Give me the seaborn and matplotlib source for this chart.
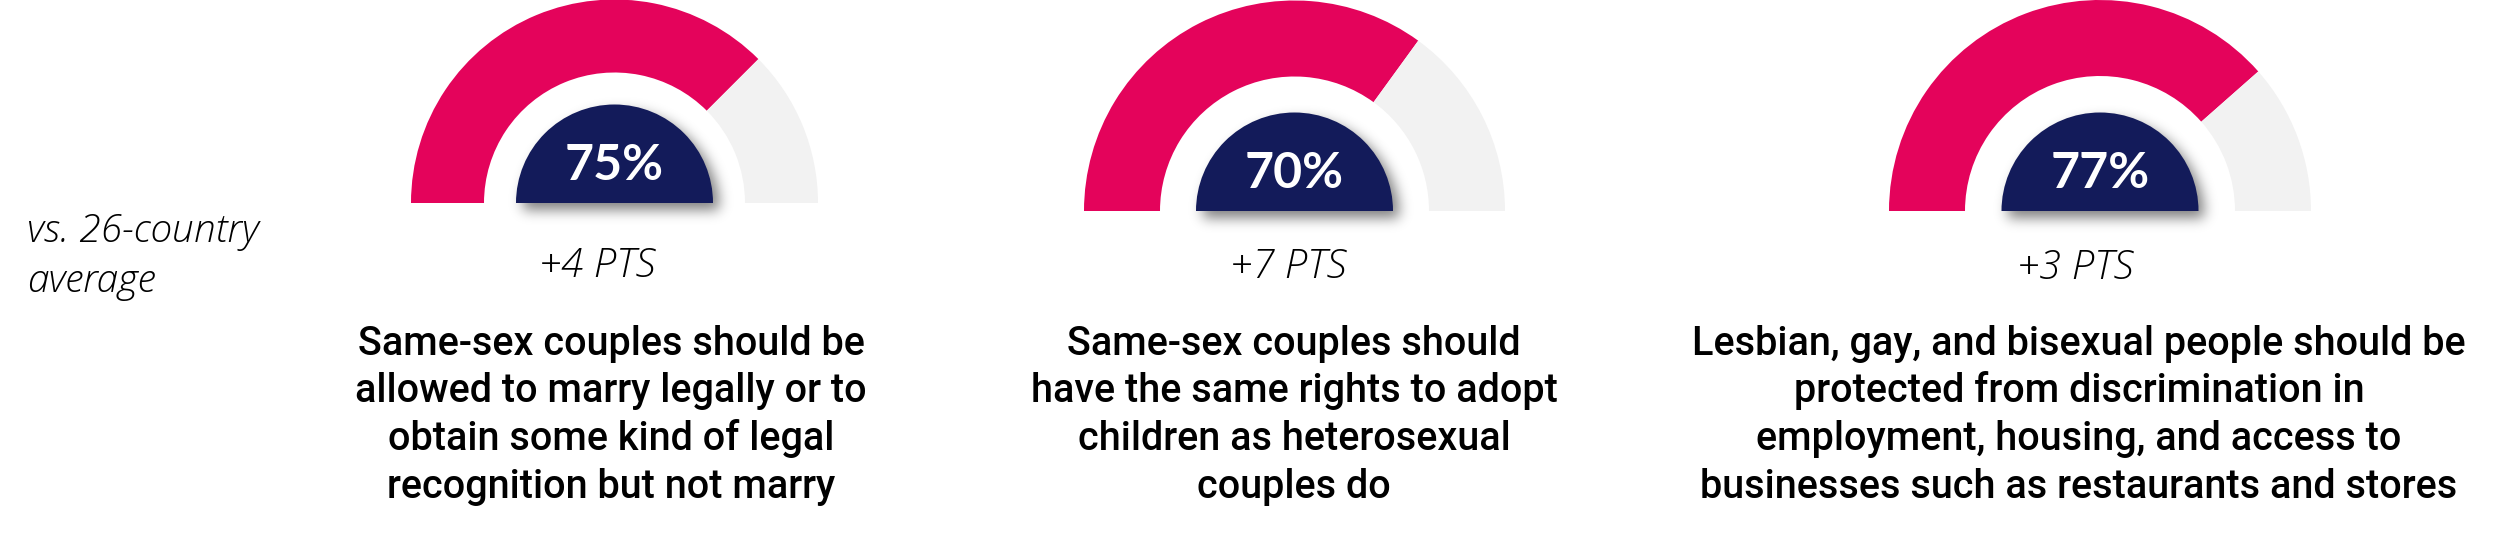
import numpy as np
import matplotlib
matplotlib.use("Agg")
import matplotlib.pyplot as plt
from matplotlib.patches import Wedge
import seaborn as sns

# ---------------- data ----------------
shares = [75, 70, 77]
share_labels = ["75%", "70%", "77%"]
deltas = ["+4 PTS", "+7 PTS", "+3 PTS"]
statements = [
    "Same-sex couples should be\nallowed to marry legally or to\nobtain some kind of legal\nrecognition but not marry",
    "Same-sex couples should\nhave the same rights to adopt\nchildren as heterosexual\ncouples do",
    "Lesbian, gay, and bisexual people should be\nprotected from discrimination in\nemployment, housing, and access to\nbusinesses such as restaurants and stores",
]
side_label = "vs. 26-country\naverage"

# ---------------- layout (image pixel coords) ----------------
W, H = 2501, 534
cx = [614.5, 1294.5, 2100.0]
base = [203.0, 211.0, 211.0]
r_out = [203.5, 210.5, 211.0]
r_in = [130.5, 134.5, 135.0]
hub_r = 98.5
pct_y = [165, 173, 173]
delta_x = [597, 1288, 2075]
delta_y = [277, 278, 279]
text_x = [611, 1294, 2079]
line_y0 = 355
line_gap = 47.5

PINK = "#E4035B"
GREY = "#F2F2F2"
NAVY = "#131B5A"

sns.set_theme(style="white")
plt.rcParams["font.family"] = ["Roboto", "DejaVu Sans"]

fig = plt.figure(figsize=(W / 100, H / 100), dpi=100)
ax = fig.add_axes([0, 0, 1, 1])
ax.set_xlim(0, W)
ax.set_ylim(H, 0)
ax.axis("off")


def blur(a, s):
    k = np.arange(-int(3 * s), int(3 * s) + 1)
    g = np.exp(-k ** 2 / (2.0 * s * s))
    g /= g.sum()
    a = np.apply_along_axis(lambda m: np.convolve(m, g, mode="same"), 0, a)
    a = np.apply_along_axis(lambda m: np.convolve(m, g, mode="same"), 1, a)
    return a


for i, p in enumerate(shares):
    c = (cx[i], base[i])
    split = 180 + 180 * p / 100.0
    ax.add_patch(Wedge(c, r_out[i], 180, split, width=r_out[i] - r_in[i],
                       facecolor=PINK, edgecolor="none", zorder=2))
    ax.add_patch(Wedge(c, r_out[i], split, 360, width=r_out[i] - r_in[i],
                       facecolor=GREY, edgecolor="none", zorder=2))

    # soft drop shadow under the hub
    x0, x1 = cx[i] - 140, cx[i] + 150
    y0, y1 = base[i] - 120, base[i] + 50
    xs = np.arange(x0, x1) + 0.5
    ys = np.arange(y0, y1) + 0.5
    X, Y = np.meshgrid(xs, ys)
    sx, sy = cx[i] + 6, base[i] + 7
    mask = (((X - sx) ** 2 + (Y - sy) ** 2) < hub_r ** 2) & (Y < sy)
    sh = blur(mask.astype(float), 6.5)
    rgba = np.zeros(sh.shape + (4,))
    rgba[..., 3] = np.clip(sh, 0, 1) * 0.5
    ax.imshow(rgba, extent=(x0, x1, y1, y0), origin="upper",
              interpolation="bilinear", zorder=3)

    ax.add_patch(Wedge(c, hub_r, 180, 360, facecolor=NAVY,
                       edgecolor="none", zorder=4))

    ax.text(cx[i], pct_y[i], share_labels[i], ha="center", va="center",
            color="white", fontsize=36, fontweight="bold",
            family=["Lato", "DejaVu Sans"], zorder=5)

    ax.text(delta_x[i], delta_y[i], deltas[i], ha="center", va="baseline",
            color="black", fontsize=29, fontstyle="italic", fontweight=300,
            family=["Open Sans", "DejaVu Sans"], zorder=5)

    for j, line in enumerate(statements[i].split("\n")):
        ax.text(text_x[i], line_y0 + j * line_gap, line, ha="center",
                va="baseline", color="black", fontsize=28.5, fontweight="medium",
                family=["Roboto", "DejaVu Sans"], zorder=5)

for j, line in enumerate(side_label.split("\n")):
    ax.text(27, 242 + j * 50, line, ha="left", va="baseline", color="black",
            fontsize=28, fontstyle="italic", fontweight=300,
            family=["Open Sans", "DejaVu Sans"], zorder=5)

ax.set_xlim(0, W)
ax.set_ylim(H, 0)
ax.set_aspect("auto")
fig.savefig("out.png", dpi=100, facecolor="white")
